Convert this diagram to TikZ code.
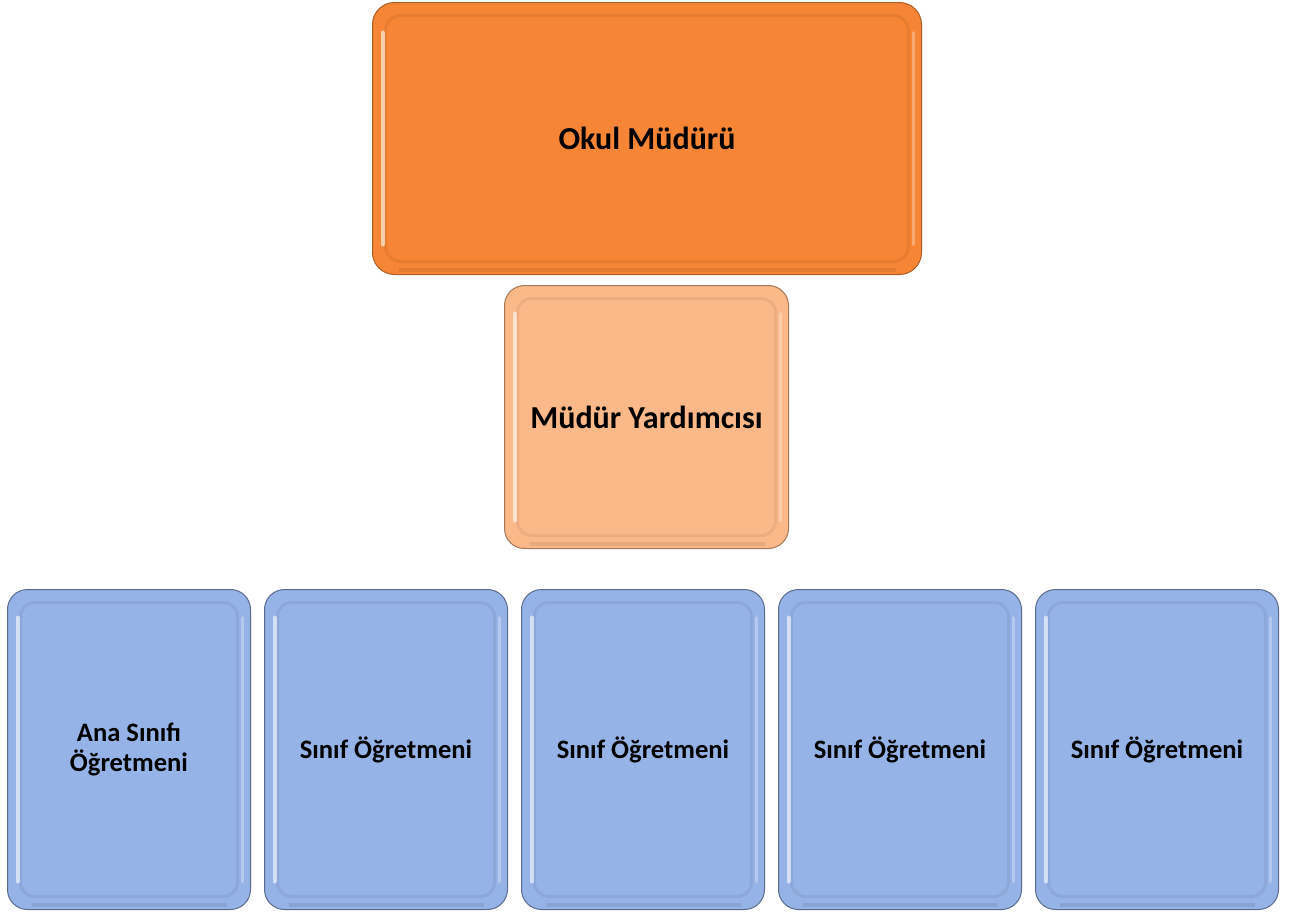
\documentclass[tikz,border=0pt]{standalone}
\usepackage{fontspec}
\setmainfont{Carlito}
\usetikzlibrary{calc}
\definecolor{topor}{HTML}{F68535}
\definecolor{midor}{HTML}{FBB888}
\definecolor{blu}{HTML}{95B3E7}
\tikzset{
  bevel/.style={rounded corners=#1, line width=1pt,
    path picture={
      \coordinate (pa) at (path picture bounding box.north west);
      \coordinate (pb) at (path picture bounding box.south east);
      \draw[black, opacity=.06, line width=3pt, rounded corners=#1*0.7]
        ($(pa)+(13pt,-13pt)$) rectangle ($(pb)+(-13pt,13pt)$);
      \draw[white, opacity=.6, line width=4pt, line cap=round]
        ($(pa)+(10pt,-#1-8pt)$) -- ($(pa|-pb)+(10pt,#1+8pt)$);
      \draw[white, opacity=.3, line width=3pt, line cap=round]
        ($(pb|-pa)+(-8pt,-#1-8pt)$) -- ($(pb)+(-8pt,#1+8pt)$);
      \draw[black, opacity=.08, line width=4pt]
        ($(pa|-pb)+(#1+4pt,5pt)$) -- ($(pb)+(-#1-4pt,5pt)$);
    }},
  topbox/.style={bevel=22pt, fill=topor, draw=topor!70!black,
    minimum width=549pt, minimum height=272pt, inner sep=0pt,
    font=\fontsize{32}{38}\selectfont\bfseries},
  midbox/.style={bevel=20pt, fill=midor, draw=midor!65!black,
    minimum width=284pt, minimum height=263pt, inner sep=0pt,
    font=\fontsize{32}{38}\selectfont\bfseries},
  botbox/.style={bevel=20pt, fill=blu, draw=blu!60!black,
    minimum width=243pt, minimum height=320pt, inner sep=0pt, align=center,
    font=\fontsize{26.6}{30}\selectfont\bfseries},
}
\begin{document}
\begin{tikzpicture}[x=1pt,y=-1pt]
\useasboundingbox (0,0) rectangle (1293,916);
\node[topbox] (okul) at (647,138.5) {Okul Müdürü};
\node[midbox] (yard) at (646.5,417) {Müdür Yardımcısı};
\node[botbox] (b1) at (129,749.5) {Ana Sınıfı\\Öğretmeni};
\node[botbox] (b2) at (386,749.5) {Sınıf Öğretmeni};
\node[botbox] (b3) at (643,749.5) {Sınıf Öğretmeni};
\node[botbox] (b4) at (900,749.5) {Sınıf Öğretmeni};
\node[botbox] (b5) at (1157,749.5) {Sınıf Öğretmeni};
\end{tikzpicture}
\end{document}
